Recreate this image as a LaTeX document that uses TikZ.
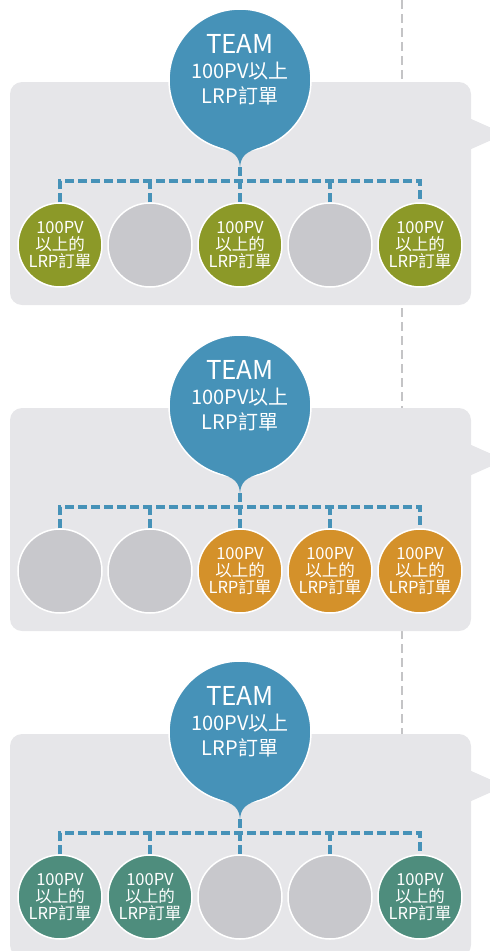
\documentclass[tikz,border=0pt]{standalone}
\usepackage{fontspec}
\newfontfamily\cjk{Noto Sans CJK TC}
\usetikzlibrary{positioning}

\definecolor{panelgray}{RGB}{230,230,233}
\definecolor{emptygray}{RGB}{200,200,204}
\definecolor{railgray}{RGB}{196,196,198}
\definecolor{teamblue}{RGB}{70,146,184}
\definecolor{orderolive}{RGB}{140,153,40}
\definecolor{orderorange}{RGB}{212,145,42}
\definecolor{orderteal}{RGB}{78,141,125}

\begin{document}
\begin{tikzpicture}[
  x=1pt, y=-1pt,
  panel/.style={fill=panelgray, rounded corners=12pt},
  team/.style={circle, fill=teamblue, draw=white, line width=1.5pt, minimum size=142pt, inner sep=0pt},
  teamtext/.style={text=white, align=center, font=\cjk\fontsize{20}{25}\selectfont},
  member/.style={circle, draw=white, line width=1.5pt, minimum size=84pt, inner sep=0pt},
  ordertext/.style={text=white, align=center, inner sep=0pt, font=\cjk\fontsize{16.5}{17}\selectfont},
  vacant/.style={member, fill=emptygray},
  oliveorder/.style={member, fill=orderolive, label={[ordertext]center:100PV\\以上的\\LRP訂單}},
  orangeorder/.style={member, fill=orderorange, label={[ordertext]center:100PV\\以上的\\LRP訂單}},
  tealorder/.style={member, fill=orderteal, label={[ordertext]center:100PV\\以上的\\LRP訂單}},
  link/.style={teamblue, line width=4pt, dash pattern=on 9pt off 4pt},
  rail/.style={railgray, line width=2.2pt, dash pattern=on 9pt off 5pt}
]
\useasboundingbox (0,0) rectangle (490,951);

% timeline behind the panels
\draw[rail] (402,0) -- (402,951);

\foreach \p/\ka/\kb/\kc/\kd/\ke in {0/oliveorder/vacant/oliveorder/vacant/oliveorder,
                                    1/vacant/vacant/orangeorder/orangeorder/orangeorder,
                                    2/tealorder/tealorder/vacant/vacant/tealorder} {
  \begin{scope}[yshift=-\p*326pt]
    \fill[panel] (10,82) rectangle (471,305);
    \fill[panelgray] (469,118) -- (505,134) -- (469,150) -- cycle;

    \node[team] (p\p-team) at (240,80) {};
    \coordinate (p\p-tip) at (240,167);
    \fill[teamblue] (218,146.5) .. controls (234.6,152) and (239,156) .. (p\p-tip)
      .. controls (241,156) and (245.4,152) .. (262,146.5) -- (240,120) -- cycle;
    \node[teamtext] (p\p-label) at (240,70) {{\fontsize{26}{26}\selectfont TEAM}\\100PV以上\\LRP訂單};

    \foreach \kind [count=\j] in {\ka,\kb,\kc,\kd,\ke}
      \node[\kind] (p\p-c\j) at ({60+90*(\j-1)},245) {};

    \draw[link] (p\p-c1.north) -- ++(0,-21) -| (p\p-c5.north);
    \draw[link] (p\p-c2.north) -- ++(0,-21);
    \draw[link] (p\p-c4.north) -- ++(0,-21);
    \draw[link] (p\p-tip) -- (p\p-c3.north);
  \end{scope}
}
\end{tikzpicture}
\end{document}
